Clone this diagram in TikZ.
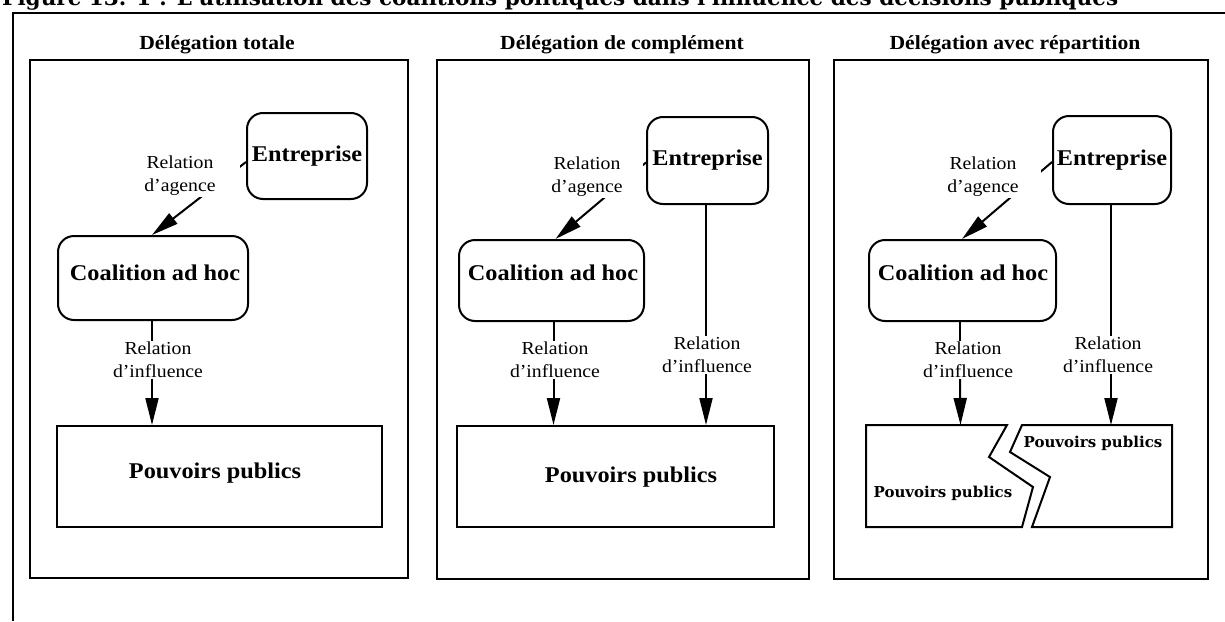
\documentclass[tikz,border=0pt]{standalone}
\usepackage{fontspec}
\setmainfont[FakeStretch=1.08]{Liberation Serif}
\newfontfamily\capfont{DejaVu Serif}
\usepackage{graphicx}
\usetikzlibrary{arrows.meta}

\tikzset{
  frame/.style={draw, line width=2pt},
  rbox/.style={draw, line width=2pt, rounded corners=16pt, inner sep=0pt},
  pbox/.style={draw, line width=2pt, inner sep=0pt},
  big/.style={font=\fontsize{22.5}{26}\selectfont\bfseries, inner sep=0pt},
  head/.style={font=\fontsize{20}{24}\selectfont\bfseries, inner sep=0pt},
  small/.style={font=\fontsize{18.3}{23}\selectfont, align=center, inner sep=1pt},
  heavy/.style={font=\capfont\fontsize{15}{18}\selectfont\bfseries, inner sep=0pt},
  conn/.style={line width=2pt},
  arr/.style={line width=2pt, -{Triangle[length=27pt,width=13pt]}},
  broken/.style={draw, line width=2pt, line join=miter},
}

\begin{document}
\begin{tikzpicture}[x=1pt,y=-1pt]
\useasboundingbox (0,0) rectangle (1225,621);
\clip (0,0) rectangle (1225,621);

% caption line, cut by the top of the sheet
\node[anchor=base west, inner sep=0pt] (title) at (2,5)
  {\resizebox{1116pt}{!}{\capfont\fontsize{22}{26}\selectfont\bfseries
   Figure 13. 1 : L'utilisation des coalitions politiques dans l'influence des décisions publiques}};

% outer frame
\draw[line width=2.5pt] (1225,13) -- (13,13) -- (13,621);

% ---------- panel 1 : delegation totale ----------
\draw[frame] (30,60) rectangle (408,578);
\node[head] (h1) at (217,45) {Délégation totale};
\node[rbox, big, minimum width=120pt, minimum height=86pt] (ent1) at (307,156) {Entreprise};
\node[rbox, minimum width=190pt, minimum height=84pt] (coa1) at (153,278) {};
\node[big] (coa1t) at (155,273) {Coalition ad hoc};
\node[pbox, minimum width=325pt, minimum height=101pt] (pp1) at (219.5,476.5) {};
\node[big] (pp1t) at (215,473) {Pouvoirs publics};
\draw[arr] ([yshift=-6pt]ent1.west) -- ([xshift=-1pt]coa1.north);
\node[small, fill=white, inner xsep=24pt] (lab1a) at (180,176) {Relation\\d'agence};
\node[small] (lab1i) at (158,360) {Relation\\d'influence};
\draw[conn] ([xshift=-1pt]coa1.south) -- ([xshift=-1pt]coa1.south |- lab1i.north);
\draw[arr] ([xshift=-1pt]coa1.south |- lab1i.south) -- ([xshift=-1pt]coa1.south |- pp1.north);

% ---------- panel 2 : delegation de complement ----------
\draw[frame] (437,60) rectangle (809,579);
\node[head] (h2) at (622,45) {Délégation de complément};
\node[rbox, big, minimum width=121pt, minimum height=87pt] (ent2) at (707.5,160.5) {Entreprise};
\node[rbox, minimum width=185pt, minimum height=81pt] (coa2) at (551.5,280.5) {};
\node[big] (coa2t) at (553,273) {Coalition ad hoc};
\node[pbox, minimum width=317pt, minimum height=101pt] (pp2) at (615.5,476.5) {};
\node[big] (pp2t) at (631,477) {Pouvoirs publics};
\draw[arr] ([yshift=-2pt]ent2.west) -- ([xshift=4pt]coa2.north);
\node[small, fill=white, inner xsep=20pt] (lab2a) at (587,177) {Relation\\d'agence};
\node[small] (lab2l) at (555,360) {Relation\\d'influence};
\node[small] (lab2r) at (707,355) {Relation\\d'influence};
\draw[conn] ([xshift=2pt]coa2.south) -- ([xshift=2pt]coa2.south |- lab2l.north);
\draw[arr] ([xshift=2pt]coa2.south |- lab2l.south) -- ([xshift=2pt]coa2.south |- pp2.north);
\draw[conn] ([xshift=-1.5pt]ent2.south) -- ([xshift=-1.5pt]ent2.south |- lab2r.north);
\draw[arr] ([xshift=-1.5pt]ent2.south |- lab2r.south) -- ([xshift=-1.5pt]ent2.south |- pp2.north);

% ---------- panel 3 : delegation avec repartition ----------
\draw[frame] (834,60) rectangle (1208,579);
\node[head] (h3) at (1015,45) {Délégation avec répartition};
\node[rbox, big, minimum width=118pt, minimum height=88pt] (ent3) at (1112,160) {Entreprise};
\node[rbox, minimum width=187pt, minimum height=81pt] (coa3) at (962.5,280.5) {};
\node[big] (coa3t) at (963,273) {Coalition ad hoc};
\draw[arr] ([yshift=-2pt]ent3.west) -- ([xshift=-0.5pt]coa3.north);
\node[small, fill=white, inner xsep=22pt] (lab3a) at (983,177) {Relation\\d'agence};
\node[small] (lab3l) at (968,360) {Relation\\d'influence};
\node[small] (lab3r) at (1108,355) {Relation\\d'influence};

% the public authorities, split in two pieces
\draw[broken] (866,425) -- (1007,425) -- (989,457) -- (1033,487) -- (1022,527) -- (866,527) -- cycle;
\draw[broken] (1022,425) -- (1172,425) -- (1172,527) -- (1032,527) -- (1050,477) -- (1010,452) -- cycle;
\node[heavy] (pp3l) at (943,493) {Pouvoirs publics};
\node[heavy] (pp3r) at (1093,443) {Pouvoirs publics};
\coordinate (tip3l) at (960.5,425);
\coordinate (tip3r) at (1111,425);

\draw[conn] ([xshift=-2.5pt]coa3.south) -- ([xshift=-2.5pt]coa3.south |- lab3l.north);
\draw[arr] ([xshift=-2.5pt]coa3.south |- lab3l.south) -- (tip3l);
\draw[conn] ([xshift=-1pt]ent3.south) -- ([xshift=-1pt]ent3.south |- lab3r.north);
\draw[arr] ([xshift=-1pt]ent3.south |- lab3r.south) -- (tip3r);
\end{tikzpicture}
\end{document}
